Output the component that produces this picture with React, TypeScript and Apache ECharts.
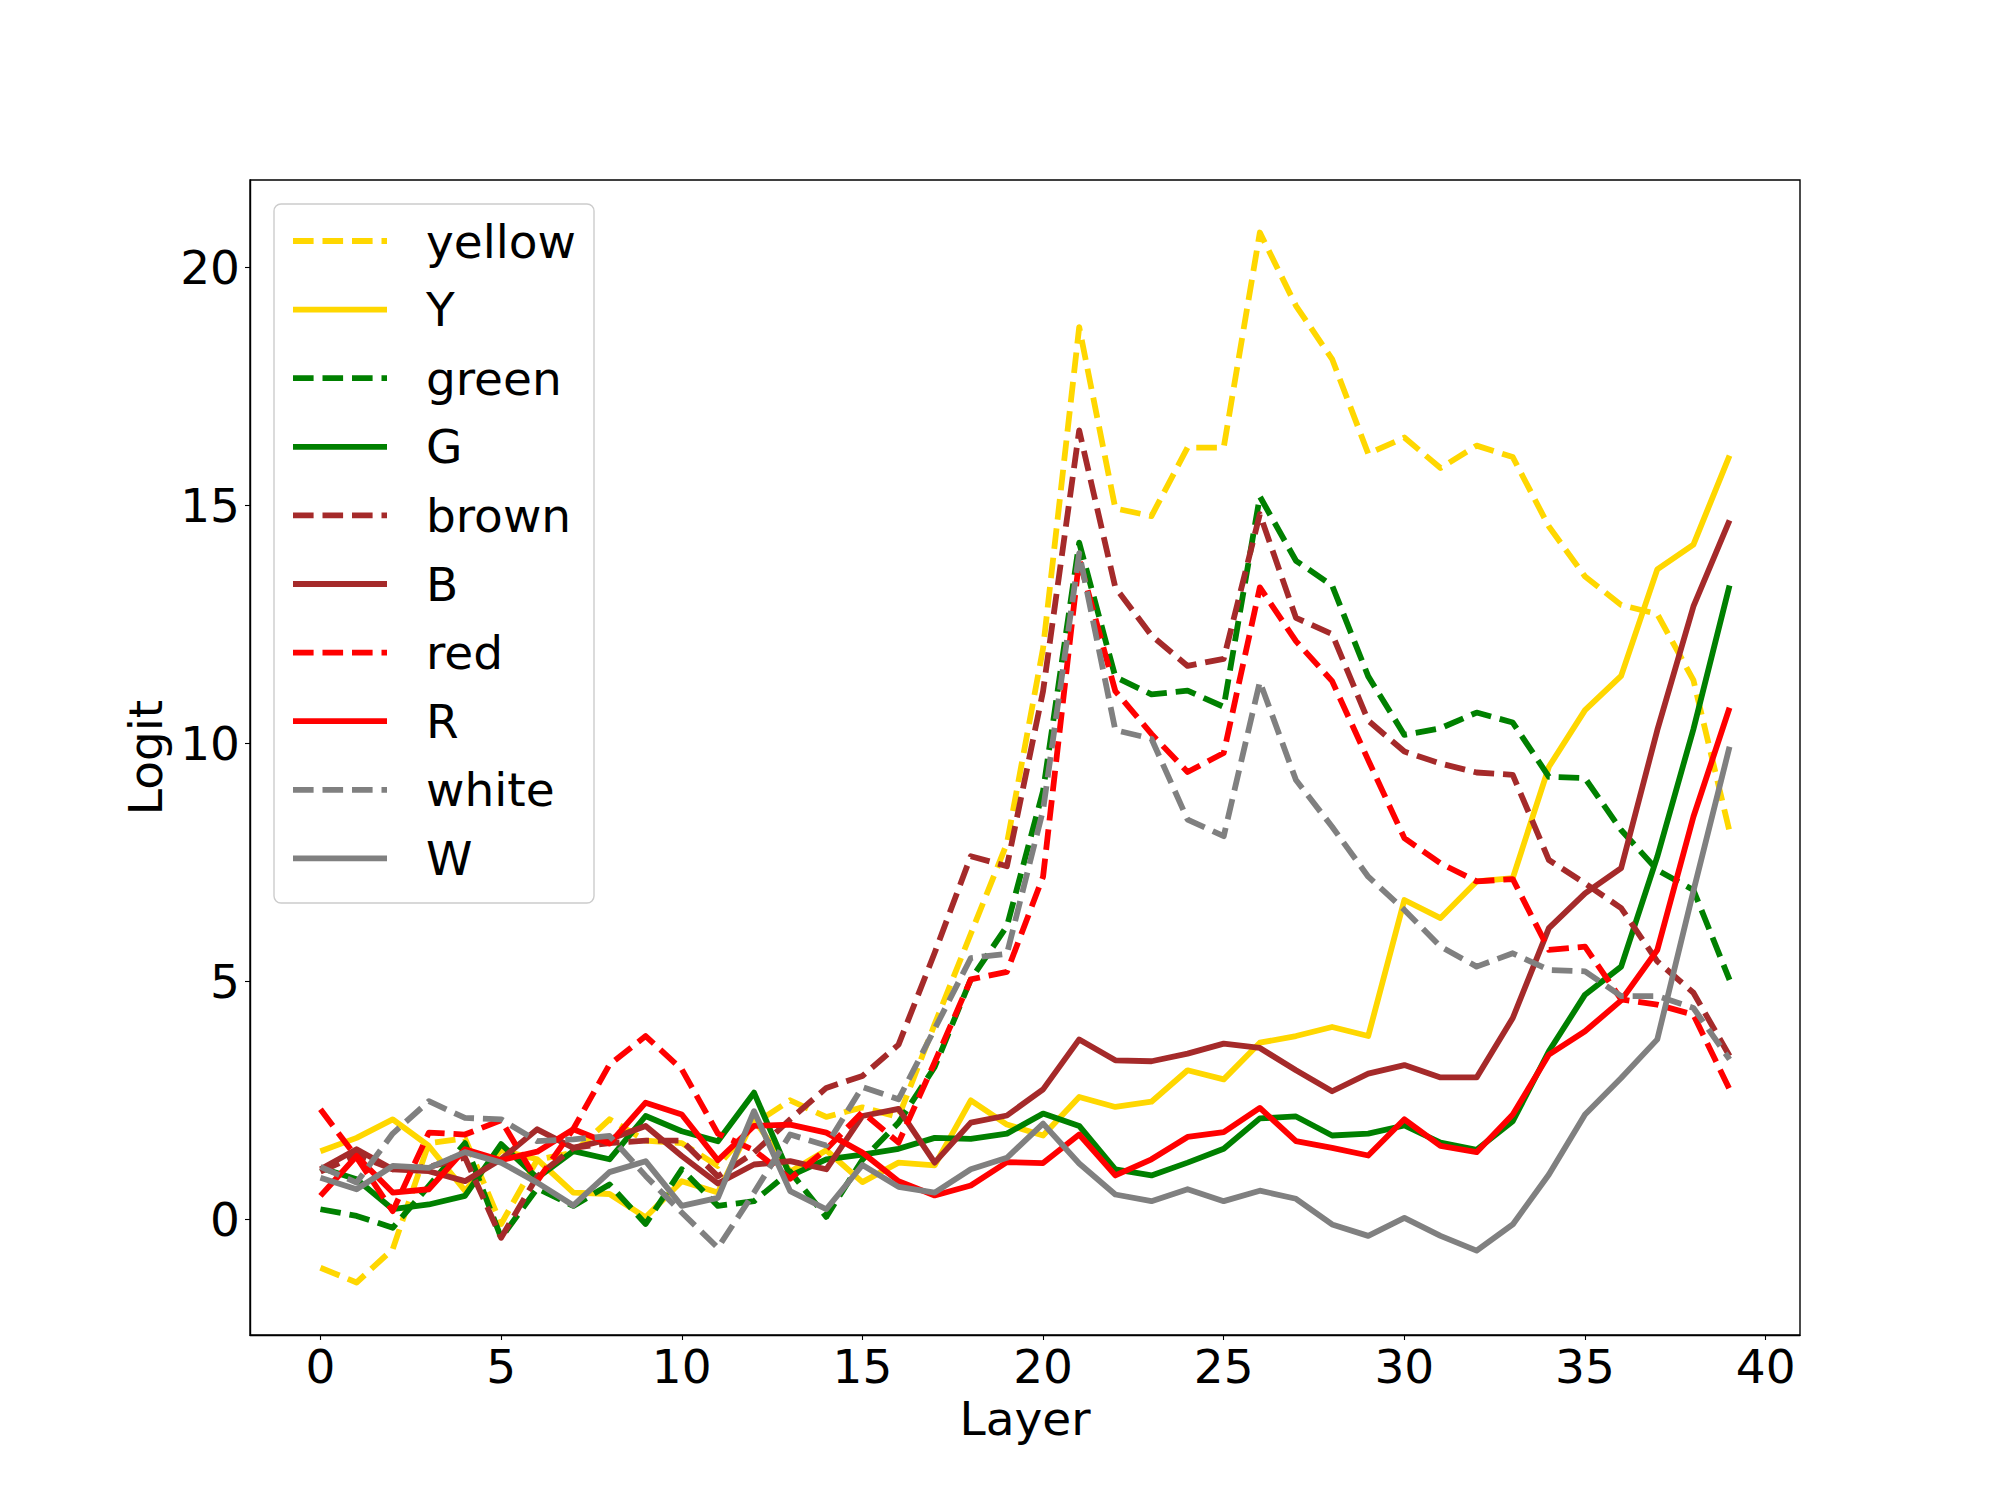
import React, { useEffect, useRef } from "react";
import * as echarts from "echarts";

const layers = [0,1,2,3,4,5,6,7,8,9,10,11,12,13,14,15,16,17,18,19,20,21,22,23,24,25,26,27,28,29,30,31,32,33,34,35,36,37,38,39];

const yellowDashed = [-1.02,-1.33,-0.63,1.6,1.7,-0.1,1.25,1.4,2.1,1.65,1.6,1.12,2.0,2.5,2.15,2.35,2.15,4.1,6.0,7.9,12.0,18.75,14.94,14.78,16.22,16.22,20.74,19.2,18.08,16.09,16.43,15.79,16.26,16.02,14.56,13.51,12.91,12.72,11.33,8.15];
const ySolid = [1.43,1.71,2.1,1.54,0.6,1.45,1.26,0.56,0.53,0.04,0.8,0.56,2.1,1.0,1.45,0.78,1.19,1.13,2.5,1.99,1.76,2.57,2.36,2.47,3.13,2.94,3.71,3.85,4.04,3.85,6.71,6.33,7.1,7.17,9.51,10.7,11.42,13.66,14.18,16.05];
const greenDashed = [0.21,0.07,-0.18,0.7,1.6,-0.39,0.65,0.28,0.73,-0.1,1.05,0.28,0.38,1.0,0.05,1.25,2.03,3.2,5.04,6.16,9.0,14.22,11.4,11.03,11.11,10.77,15.19,13.84,13.32,11.41,10.18,10.32,10.65,10.44,9.3,9.27,8.18,7.34,6.92,5.03];
const gSolid = [1.08,0.84,0.21,0.31,0.49,1.58,0.87,1.43,1.26,2.17,1.85,1.64,2.66,0.91,1.26,1.36,1.48,1.71,1.69,1.8,2.22,1.96,1.05,0.92,1.19,1.48,2.12,2.16,1.76,1.8,1.97,1.61,1.46,2.06,3.53,4.72,5.31,7.62,10.3,13.32];
const brownDashed = [1.0,1.35,1.05,1.1,1.3,-0.39,0.9,1.5,1.6,1.65,1.65,0.9,1.4,2.1,2.76,3.01,3.67,5.6,7.63,7.42,11.1,16.58,13.28,12.27,11.63,11.78,14.82,12.64,12.3,10.48,9.83,9.58,9.39,9.34,7.55,7.06,6.54,5.42,4.76,3.43];
const bSolid = [1.05,1.47,1.05,1.01,0.8,1.26,1.89,1.5,1.68,1.96,1.33,0.75,1.15,1.22,1.05,2.17,2.32,1.19,2.03,2.18,2.73,3.78,3.34,3.32,3.48,3.69,3.6,3.13,2.69,3.06,3.24,2.98,2.98,4.23,6.12,6.85,7.38,10.28,12.88,14.69];
const redDashed = [2.31,1.3,0.17,1.82,1.78,2.08,0.8,1.9,3.25,3.85,3.15,1.8,1.45,0.85,1.47,2.25,1.61,3.3,5.04,5.2,7.2,13.87,11.1,10.2,9.4,9.8,13.28,12.15,11.31,9.65,8.01,7.48,7.1,7.15,5.66,5.73,4.62,4.51,4.3,2.73];
const rSolid = [0.49,1.33,0.56,0.63,1.47,1.24,1.42,1.89,1.59,2.45,2.2,1.24,1.96,1.99,1.82,1.4,0.8,0.5,0.71,1.2,1.18,1.78,0.92,1.26,1.73,1.83,2.34,1.64,1.5,1.34,2.1,1.54,1.41,2.2,3.46,3.95,4.6,5.66,8.46,10.75];
const whiteDashed = [1.1,0.77,1.8,2.48,2.13,2.1,1.64,1.68,1.75,0.91,0.14,-0.6,0.56,1.78,1.55,2.78,2.52,4.0,5.49,5.58,8.6,14.0,10.28,10.1,8.4,8.05,11.3,9.23,8.25,7.2,6.5,5.73,5.31,5.59,5.24,5.21,4.69,4.69,4.44,3.36];
const wSolid = [0.87,0.63,1.12,1.08,1.41,1.19,0.77,0.29,0.99,1.22,0.28,0.45,2.27,0.59,0.21,1.14,0.68,0.56,1.05,1.29,2.01,1.17,0.52,0.38,0.63,0.38,0.6,0.43,-0.11,-0.35,0.03,-0.35,-0.66,-0.11,0.94,2.2,2.97,3.78,6.9,9.93];

const seriesNames = ["yellow", "Y", "green", "G", "brown", "B", "red", "R", "white", "W"];
const seriesValues = [yellowDashed, ySolid, greenDashed, gSolid, brownDashed, bSolid, redDashed, rSolid, whiteDashed, wSolid];
const seriesColors = ["#FFD700", "#FFD700", "#008000", "#008000", "#A52A2A", "#A52A2A", "#FF0000", "#FF0000", "#808080", "#808080"];
const seriesDashed = [true, false, true, false, true, false, true, false, true, false];

const xTicks = [0, 5, 10, 15, 20, 25, 30, 35, 40];
const yTicks = [0, 5, 10, 15, 20];

const FONT = "DejaVu Sans";
const FS = 47;
const LW = 5.8;
const DASH = [20.6, 8.9];

export default function App() {
  const ref = useRef<HTMLDivElement>(null);
  useEffect(() => {
    if (!ref.current) return;
    const chart = echarts.init(ref.current, undefined, { renderer: "svg" });
    const all = seriesValues.flat();
    const yLo = Math.min(...all);
    const yHi = Math.max(...all);
    const yPad = (yHi - yLo) * 0.05;
    const xLo = layers[0];
    const xHi = layers[layers.length - 1];
    const xPad = (xHi - xLo) * 0.05;

    const series = seriesNames.map((name, i) => ({
      name,
      type: "line",
      data: layers.map((l, j) => [l, seriesValues[i][j]]),
      symbol: "none",
      showSymbol: false,
      smooth: false,
      color: seriesColors[i],
      lineStyle: {
        color: seriesColors[i],
        width: LW,
        type: seriesDashed[i] ? DASH : "solid",
        cap: "butt",
        join: "round",
      },
      z: 2 + i,
      emphasis: { disabled: true },
    }));

    // legend drawn with graphic elements
    const legLeft = 274;
    const legTop = 204;
    const legW = 320;
    const legH = 699;
    const rowStart = 241;
    const rowStep = 68.6;
    const legendChildren: any[] = [
      {
        type: "rect",
        shape: { x: legLeft, y: legTop, width: legW, height: legH, r: 7 },
        style: { fill: "rgba(255,255,255,0.8)", stroke: "#cccccc", lineWidth: 1.4 },
      },
    ];
    seriesNames.forEach((name, i) => {
      const cy = rowStart + i * rowStep;
      legendChildren.push({
        type: "line",
        shape: { x1: 293, y1: cy, x2: 387, y2: cy },
        style: {
          stroke: seriesColors[i],
          lineWidth: LW,
          lineDash: seriesDashed[i] ? DASH : null,
          lineCap: "butt",
        },
      });
      legendChildren.push({
        type: "text",
        x: 426,
        y: cy,
        style: {
          text: name,
          fontFamily: FONT,
          fontSize: FS,
          fill: "#000000",
          textVerticalAlign: "middle",
          verticalAlign: "middle",
          align: "left",
        },
      });
    });

    chart.setOption({
      animation: false,
      backgroundColor: "#ffffff",
      textStyle: { fontFamily: FONT },
      grid: {
        left: 250,
        right: 200,
        top: 180,
        bottom: 165,
        show: true,
        borderColor: "#000000",
        borderWidth: 1.4,
        backgroundColor: "transparent",
      },
      graphic: [{ type: "group", z: 100, children: legendChildren }],
      xAxis: {
        type: "value",
        min: xLo - xPad,
        max: xHi + xPad,
        name: "Layer",
        nameLocation: "middle",
        nameGap: 48,
        nameTextStyle: { fontFamily: FONT, fontSize: FS, color: "#000000" },
        axisLine: { show: true, onZero: false, lineStyle: { color: "#000000", width: 1.4 } },
        axisTick: { show: true, length: 5, lineStyle: { color: "#000000", width: 1.1 }, customValues: xTicks },
        axisLabel: { fontFamily: FONT, fontSize: FS, color: "#000000", margin: 8, customValues: xTicks },
        splitLine: { show: false },
      },
      yAxis: {
        type: "value",
        min: yLo - yPad,
        max: yHi + yPad,
        name: "Logit",
        nameLocation: "middle",
        nameGap: 66,
        nameRotate: 90,
        nameTextStyle: { fontFamily: FONT, fontSize: FS, color: "#000000" },
        axisLine: { show: true, onZero: false, lineStyle: { color: "#000000", width: 1.4 } },
        axisTick: { show: true, length: 5, lineStyle: { color: "#000000", width: 1.1 }, customValues: yTicks },
        axisLabel: { fontFamily: FONT, fontSize: FS, color: "#000000", margin: 10, customValues: yTicks },
        splitLine: { show: false },
      },
      series,
    });
    return () => chart.dispose();
  }, []);
  return (
    <div
      ref={ref}
      style={{ position: "absolute", left: 0, top: 0, width: 2000, height: 1500, background: "#fff" }}
    />
  );
}
